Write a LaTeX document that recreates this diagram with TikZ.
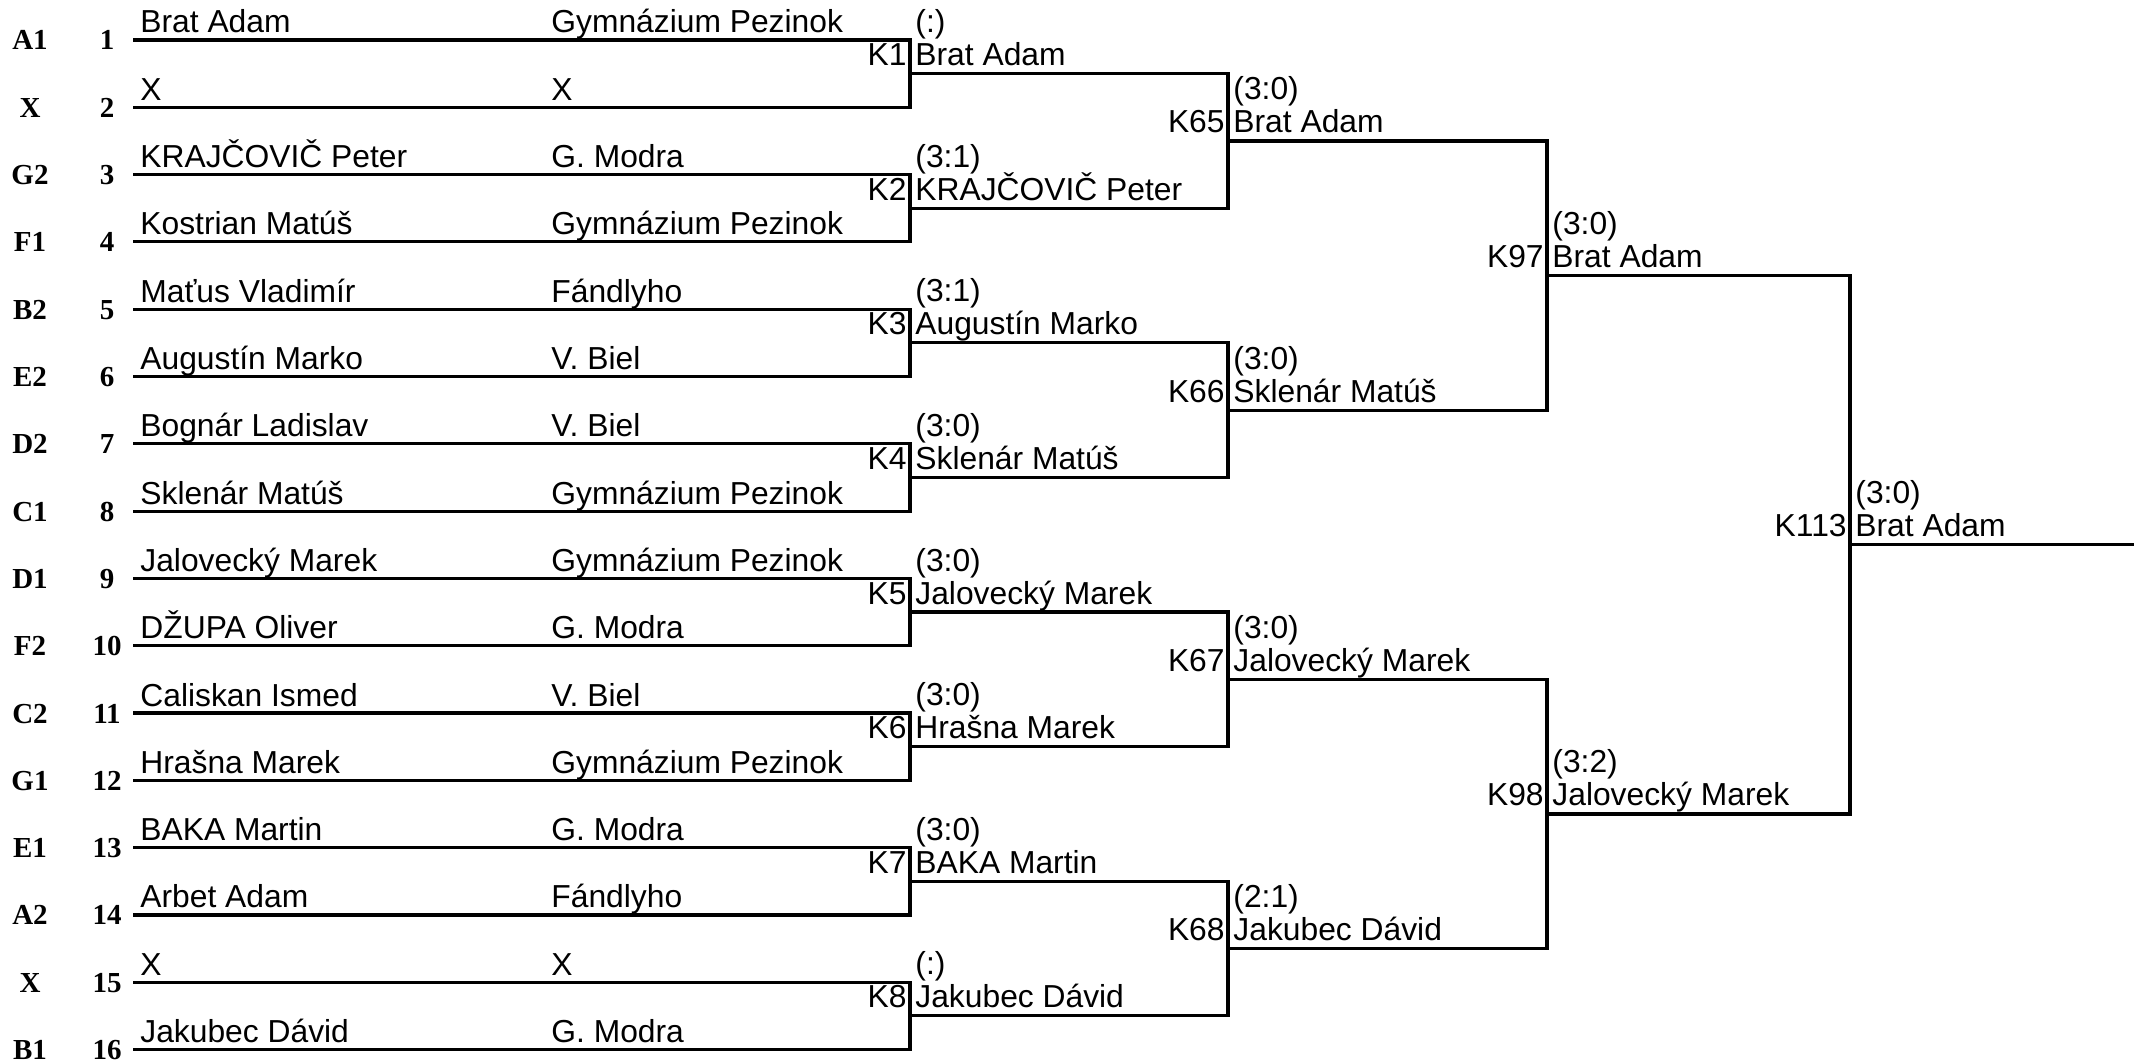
\documentclass[tikz,border=0pt]{standalone}
\usepackage{fontspec}
\setmainfont{Liberation Sans}
\newfontfamily\seedfont{Liberation Serif}
\usetikzlibrary{calc}
\tikzset{
  wire/.style={line width=1.6pt, line join=miter, line cap=rect},
  txt/.style={inner sep=0pt, font=\fontsize{15.9}{18}\selectfont},
  seedlab/.style={inner sep=0pt, anchor=base, font=\fontsize{14.5}{16}\selectfont\seedfont\bfseries},
  namelab/.style={txt, anchor=base west},
  klab/.style={txt, anchor=base east},
  winlab/.style={txt, anchor=base west},
}
\newcommand\vA{910}
\newcommand\vB{1228}
\newcommand\vC{1547}
\newcommand\vD{1850}
\begin{document}
\begin{tikzpicture}[x=0.5pt,y=-0.5pt]
\useasboundingbox (0,0) rectangle (2134,1063);
% players
\foreach \i/\sd/\nm/\cl in {
 1/A1/Brat Adam/Gymnázium Pezinok,
 2/X/X/X,
 3/G2/KRAJČOVIČ Peter/G. Modra,
 4/F1/Kostrian Matúš/Gymnázium Pezinok,
 5/B2/Maťus Vladimír/Fándlyho,
 6/E2/Augustín Marko/V. Biel,
 7/D2/Bognár Ladislav/V. Biel,
 8/C1/Sklenár Matúš/Gymnázium Pezinok,
 9/D1/Jalovecký Marek/Gymnázium Pezinok,
 10/F2/DŽUPA Oliver/G. Modra,
 11/C2/Caliskan Ismed/V. Biel,
 12/G1/Hrašna Marek/Gymnázium Pezinok,
 13/E1/BAKA Martin/G. Modra,
 14/A2/Arbet Adam/Fándlyho,
 15/X/X/X,
 16/B1/Jakubec Dávid/G. Modra}{
  \pgfmathsetmacro\yy{40+67.3*(\i-1)}
  \coordinate (P\i) at (135,\yy);
  \node[seedlab] (sd\i) at (30,\yy+10) {\sd};
  \node[seedlab] (no\i) at (107,\yy+10) {\i};
  \node[namelab] (nm\i) at (140,\yy-7) {\nm};
  \node[namelab] (cl\i) at (551,\yy-7) {\cl};
}
% junctions
\foreach \k in {1,...,8}{
  \pgfmathsetmacro\yy{40+67.3*(2*\k-1.5)}
  \coordinate (M\k) at (\vA,\yy);
}
\foreach \k in {1,...,4}{
  \pgfmathsetmacro\yy{40+67.3*(4*\k-2.5)}
  \coordinate (Q\k) at (\vB,\yy);
}
\foreach \k in {1,2}{
  \pgfmathsetmacro\yy{40+67.3*(8*\k-4.5)}
  \coordinate (S\k) at (\vC,\yy);
}
\coordinate (F) at (\vD,{40+67.3*7.5});
\coordinate (E) at (2134,{40+67.3*7.5});
% wires
\foreach \k in {1,...,8}{
  \pgfmathtruncatemacro\a{2*\k-1}
  \pgfmathtruncatemacro\b{2*\k}
  \draw[wire] (P\a) -| (M\k) |- (P\b);
}
\foreach \k in {1,...,4}{
  \pgfmathtruncatemacro\a{2*\k-1}
  \pgfmathtruncatemacro\b{2*\k}
  \draw[wire] (M\a) -| (Q\k) |- (M\b);
}
\draw[wire] (Q1) -| (S1) |- (Q2);
\draw[wire] (Q3) -| (S2) |- (Q4);
\draw[wire] (S1) -| (F) |- (S2);
\draw[wire] (F) -- (E);
% match labels
\foreach \j/\kn/\sc/\w in {
 M1/K1/:/Brat Adam,
 M2/K2/3:1/KRAJČOVIČ Peter,
 M3/K3/3:1/Augustín Marko,
 M4/K4/3:0/Sklenár Matúš,
 M5/K5/3:0/Jalovecký Marek,
 M6/K6/3:0/Hrašna Marek,
 M7/K7/3:0/BAKA Martin,
 M8/K8/:/Jakubec Dávid,
 Q1/K65/3:0/Brat Adam,
 Q2/K66/3:0/Sklenár Matúš,
 Q3/K67/3:0/Jalovecký Marek,
 Q4/K68/2:1/Jakubec Dávid,
 S1/K97/3:0/Brat Adam,
 S2/K98/3:2/Jalovecký Marek,
 F/K113/3:0/Brat Adam}{
  \node[klab] (k\j) at ($(\j)+(-3,-8)$) {\kn};
  \node[winlab] (w\j) at ($(\j)+(5,-8)$) {\w};
  \node[winlab] (s\j) at ($(\j)+(5,-41)$) {(\sc)};
}
\end{tikzpicture}
\end{document}
